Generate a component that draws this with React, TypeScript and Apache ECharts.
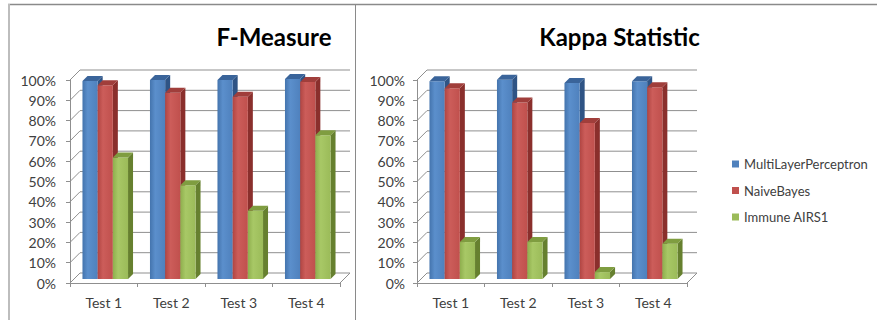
import React, { useEffect, useRef } from 'react';
import * as echarts from 'echarts';

const categories = ['Test 1', 'Test 2', 'Test 3', 'Test 4'];
const seriesNames = ['MultiLayerPerceptron', 'NaiveBayes', 'Immune AIRS1'];
const chartTitles = ['F-Measure', 'Kappa Statistic'];
const yTicks = [0, 10, 20, 30, 40, 50, 60, 70, 80, 90, 100];

const fMeasureMLP = [97.5, 98, 98, 98.5];
const fMeasureNB = [95.5, 91.8, 89.8, 97];
const fMeasureAIRS = [59.8, 46.2, 33.6, 70.8];

const kappaMLP = [97.4, 98.2, 96.5, 97.4];
const kappaNB = [94, 87, 76.8, 94.5];
const kappaAIRS = [18.2, 18.2, 3.4, 17.4];

const fMeasureData = [fMeasureMLP, fMeasureNB, fMeasureAIRS];
const kappaData = [kappaMLP, kappaNB, kappaAIRS];

const FONT = 'Lato';
const DEPTH = 10;

const palette = [
  { face: '#4F81BD', light: '#5b8fcc', dark: '#4474ad', side: '#2f5485', top: '#3a649a' },
  { face: '#C0504D', light: '#cc5d5a', dark: '#b04542', side: '#8a2f2c', top: '#a03e3b' },
  { face: '#9BBB59', light: '#a8c866', dark: '#8eae4d', side: '#66802f', top: '#7f9d40' },
];

function renderWall(params: any, api: any) {
  const v = api.value(1);
  const cs = params.coordSys;
  const y = api.coord([0, v])[1];
  const x0 = cs.x;
  const x1 = cs.x + cs.width;
  const style = { stroke: '#8f8f8f', lineWidth: 1, fill: null };
  const children: any[] = [
    { type: 'line', shape: { x1: x0, y1: y, x2: x0 + DEPTH, y2: y - DEPTH }, style },
    { type: 'line', shape: { x1: x0 + DEPTH, y1: y - DEPTH, x2: x1 + DEPTH, y2: y - DEPTH }, style },
  ];
  if (v === 0) {
    children.push({ type: 'line', shape: { x1: x1, y1: y, x2: x1 + DEPTH, y2: y - DEPTH }, style });
  }
  return { type: 'group', children };
}

function makeBarRender(i: number) {
  const c = palette[i];
  return (params: any, api: any) => {
    const cat = api.value(0);
    const val = api.value(1);
    const top = api.coord([cat, val]);
    const base = api.coord([cat, 0]);
    const band = api.size([1, 0])[0];
    const bw = band * 0.225;
    const sd = 5;
    const off = 4;
    const left = top[0] + off - (3 * bw + sd) / 2 + i * bw;
    const yT = top[1] - off;
    const yB = base[1] - off;
    const grad = new echarts.graphic.LinearGradient(0, 0, 1, 0, [
      { offset: 0, color: c.dark },
      { offset: 0.35, color: c.light },
      { offset: 1, color: c.face },
    ]);
    return {
      type: 'group',
      children: [
        {
          type: 'polygon',
          shape: { points: [[left + bw, yT], [left + bw + sd, yT - sd], [left + bw + sd, yB - sd], [left + bw, yB]] },
          style: { fill: c.side },
        },
        {
          type: 'rect',
          shape: { x: left, y: yT, width: bw, height: yB - yT },
          style: { fill: grad },
        },
        {
          type: 'polygon',
          shape: { points: [[left, yT], [left + sd, yT - sd], [left + bw + sd, yT - sd], [left + bw, yT]] },
          style: { fill: c.top },
        },
      ],
    };
  };
}

export default function App() {
  const ref = useRef<HTMLDivElement>(null);

  useEffect(() => {
    if (!ref.current) return;
    const chart = echarts.init(ref.current, undefined, { renderer: 'svg' });

    const grids = [
      { left: 70, top: 80, width: 270, height: 203 },
      { left: 417, top: 80, width: 270, height: 203 },
    ];
    const labelMargins = [14, 12];
    const datasets = [fMeasureData, kappaData];

    const xAxes = grids.map((_, g) => ({
      type: 'category',
      gridIndex: g,
      data: categories,
      boundaryGap: true,
      axisLine: { show: true, lineStyle: { color: '#8f8f8f', width: 1 } },
      axisTick: { show: true, length: 4, lineStyle: { color: '#8f8f8f' } },
      axisLabel: { margin: 12, color: '#404040', fontFamily: FONT, fontSize: 14 },
      splitLine: { show: false },
    }));

    const yAxes = grids.map((_, g) => ({
      type: 'value',
      gridIndex: g,
      min: 0,
      max: 100,
      interval: 10,
      axisLine: { show: true, lineStyle: { color: '#8f8f8f', width: 1 } },
      axisTick: { show: true, length: 4, lineStyle: { color: '#8f8f8f' } },
      axisLabel: {
        margin: labelMargins[g],
        color: '#404040',
        fontFamily: FONT,
        fontSize: 14,
        formatter: '{value}%',
      },
      splitLine: { show: false },
    }));

    const series: any[] = [];
    grids.forEach((_, g) => {
      series.push({
        type: 'custom',
        xAxisIndex: g,
        yAxisIndex: g,
        clip: false,
        silent: true,
        z: 1,
        renderItem: renderWall,
        data: yTicks.map((v) => [0, v]),
      });
      datasets[g].forEach((vals, i) => {
        series.push({
          type: 'custom',
          name: seriesNames[i],
          xAxisIndex: g,
          yAxisIndex: g,
          clip: false,
          z: 2 + i,
          itemStyle: { color: palette[i].face },
          renderItem: makeBarRender(i),
          data: vals.map((v, k) => [k, v]),
        });
      });
    });

    chart.setOption({
      animation: false,
      backgroundColor: '#ffffff',
      title: [
        {
          text: chartTitles[0],
          left: 269,
          top: 19,
          textAlign: 'center',
          textStyle: { fontFamily: FONT, fontWeight: 'bold', fontSize: 24, color: '#000' },
        },
        {
          text: chartTitles[1],
          left: 614.5,
          top: 19,
          textAlign: 'center',
          textStyle: { fontFamily: FONT, fontWeight: 'bold', fontSize: 24, color: '#000' },
        },
      ],
      legend: {
        orient: 'vertical',
        left: 727,
        top: 152,
        icon: 'rect',
        itemWidth: 7,
        itemHeight: 7,
        itemGap: 12.5,
        data: seriesNames,
        textStyle: { fontFamily: FONT, fontSize: 13, color: '#404040', lineHeight: 14 },
        selectedMode: false,
      },
      grid: grids.map((g) => ({ ...g, containLabel: false })),
      xAxis: xAxes,
      yAxis: yAxes,
      series,
      graphic: [
        { type: 'line', silent: true, shape: { x1: 8, y1: 4.5, x2: 877, y2: 4.5 }, style: { stroke: '#8a8a8a', lineWidth: 1.5 } },
        { type: 'line', silent: true, shape: { x1: 9, y1: 4, x2: 9, y2: 320 }, style: { stroke: '#bdbdbd', lineWidth: 2 } },
        { type: 'line', silent: true, shape: { x1: 355.5, y1: 4, x2: 355.5, y2: 320 }, style: { stroke: '#8a8a8a', lineWidth: 1 } },
      ],
    });

    return () => chart.dispose();
  }, []);

  return (
    <div
      ref={ref}
      style={{ position: 'absolute', left: 0, top: 0, width: 877, height: 320, background: '#fff' }}
    />
  );
}
